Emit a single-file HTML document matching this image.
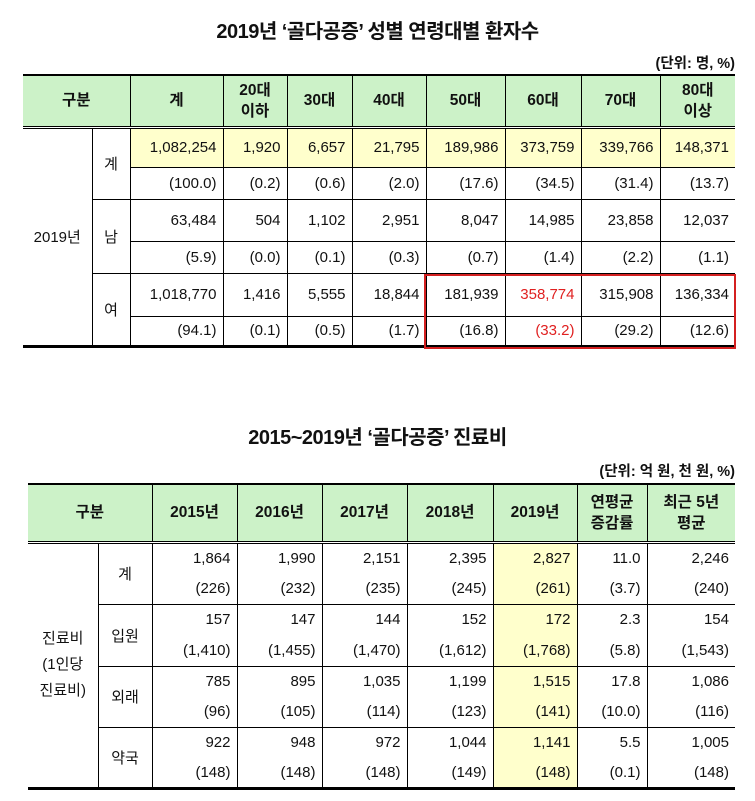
<!DOCTYPE html>
<html><head><meta charset="utf-8">
<style>
body{margin:0;width:755px;height:801px;background:#fff;position:relative;overflow:hidden;font-family:"Liberation Sans","Noto Sans CJK KR",sans-serif;color:#111}
.title{position:absolute;left:0;width:755px;text-align:center;font-weight:bold;font-size:20px;letter-spacing:-0.5px}
.unit{position:absolute;right:20px;font-size:14.5px;font-weight:bold}
table{position:absolute;border-collapse:collapse;table-layout:fixed;font-size:15px}
td,th{padding:0 6px;border:1px solid #000;text-align:right;white-space:nowrap;overflow:hidden}
th{background:#ccf2c8;text-align:center;font-weight:bold;font-size:15.5px;line-height:21px;padding:0}
td.c{text-align:center;padding:0}
tr.h th{border-top:2px solid #000;border-bottom:3px double #000}
.y{background:#ffffcc}
.red{color:#e02020}
.nl{border-left:none}
.nr{border-right:none}
#t2 td{border-top:none;border-bottom:none}
#t2 tr.g td{border-top:1px solid #000}
#t2 tr.last td{border-bottom:3px solid #000}
#t1 tr.last td{border-bottom:3px solid #000}
</style></head><body>
<div class="title" style="top:15px">2019년 ‘골다공증’ 성별 연령대별 환자수</div>
<div class="unit" style="top:52px">(단위: 명, %)</div>
<table id="t1" style="left:23px;top:74px;width:712px">
<colgroup><col style="width:69px"><col style="width:38px"><col style="width:93px"><col style="width:64px"><col style="width:65px"><col style="width:74px"><col style="width:79px"><col style="width:76px"><col style="width:79px"><col style="width:75px"></colgroup>
<tr class="h" style="height:52px"><th colspan="2" class="nl">구분</th><th>계</th><th>20대<br>이하</th><th>30대</th><th>40대</th><th>50대</th><th>60대</th><th>70대</th><th class="nr">80대<br>이상</th></tr>
<tr style="height:40px" class="y"><td rowspan="6" class="c nl" style="background:#fff;border-bottom:3px solid #000">2019년</td><td rowspan="2" class="c" style="background:#fff">계</td><td>1,082,254</td><td>1,920</td><td>6,657</td><td>21,795</td><td>189,986</td><td>373,759</td><td>339,766</td><td class="nr">148,371</td></tr>
<tr style="height:32px"><td>(100.0)</td><td>(0.2)</td><td>(0.6)</td><td>(2.0)</td><td>(17.6)</td><td>(34.5)</td><td>(31.4)</td><td class="nr">(13.7)</td></tr>
<tr style="height:42px"><td rowspan="2" class="c">남</td><td>63,484</td><td>504</td><td>1,102</td><td>2,951</td><td>8,047</td><td>14,985</td><td>23,858</td><td class="nr">12,037</td></tr>
<tr style="height:32px"><td>(5.9)</td><td>(0.0)</td><td>(0.1)</td><td>(0.3)</td><td>(0.7)</td><td>(1.4)</td><td>(2.2)</td><td class="nr">(1.1)</td></tr>
<tr style="height:43px"><td rowspan="2" class="c" style="border-bottom:3px solid #000">여</td><td>1,018,770</td><td>1,416</td><td>5,555</td><td>18,844</td><td>181,939</td><td class="red">358,774</td><td>315,908</td><td class="nr">136,334</td></tr>
<tr style="height:30px" class="last"><td>(94.1)</td><td>(0.1)</td><td>(0.5)</td><td>(1.7)</td><td>(16.8)</td><td class="red">(33.2)</td><td>(29.2)</td><td class="nr">(12.6)</td></tr>
</table>
<div style="position:absolute;left:424px;top:274px;width:308px;height:71px;border:2px solid #d42020"></div>

<div class="title" style="top:421px">2015~2019년 ‘골다공증’ 진료비</div>
<div class="unit" style="top:460px">(단위: 억 원, 천 원, %)</div>
<table id="t2" style="left:28px;top:483px;width:707px">
<colgroup><col style="width:70px"><col style="width:54px"><col style="width:85px"><col style="width:85px"><col style="width:85px"><col style="width:86px"><col style="width:84px"><col style="width:70px"><col style="width:88px"></colgroup>
<tr class="h" style="height:58px"><th colspan="2" class="nl">구분</th><th>2015년</th><th>2016년</th><th>2017년</th><th>2018년</th><th>2019년</th><th>연평균<br>증감률</th><th class="nr">최근 5년<br>평균</th></tr>
<tr class="g" style="height:31px"><td rowspan="8" class="c nl" style="line-height:26px;border-bottom:3px solid #000">진료비<br>(1인당<br>진료비)</td><td rowspan="2" class="c">계</td><td>1,864</td><td>1,990</td><td>2,151</td><td>2,395</td><td class="y">2,827</td><td>11.0</td><td class="nr">2,246</td></tr>
<tr style="height:31px"><td>(226)</td><td>(232)</td><td>(235)</td><td>(245)</td><td class="y">(261)</td><td>(3.7)</td><td class="nr">(240)</td></tr>
<tr class="g" style="height:31px"><td rowspan="2" class="c">입원</td><td>157</td><td>147</td><td>144</td><td>152</td><td class="y">172</td><td>2.3</td><td class="nr">154</td></tr>
<tr style="height:31px"><td>(1,410)</td><td>(1,455)</td><td>(1,470)</td><td>(1,612)</td><td class="y">(1,768)</td><td>(5.8)</td><td class="nr">(1,543)</td></tr>
<tr class="g" style="height:31px"><td rowspan="2" class="c">외래</td><td>785</td><td>895</td><td>1,035</td><td>1,199</td><td class="y">1,515</td><td>17.8</td><td class="nr">1,086</td></tr>
<tr style="height:30px"><td>(96)</td><td>(105)</td><td>(114)</td><td>(123)</td><td class="y">(141)</td><td>(10.0)</td><td class="nr">(116)</td></tr>
<tr class="g" style="height:31px"><td rowspan="2" class="c" style="border-bottom:3px solid #000">약국</td><td>922</td><td>948</td><td>972</td><td>1,044</td><td class="y">1,141</td><td>5.5</td><td class="nr">1,005</td></tr>
<tr class="last" style="height:30px"><td>(148)</td><td>(148)</td><td>(148)</td><td>(149)</td><td class="y">(148)</td><td>(0.1)</td><td class="nr">(148)</td></tr>
</table>
</body></html>
